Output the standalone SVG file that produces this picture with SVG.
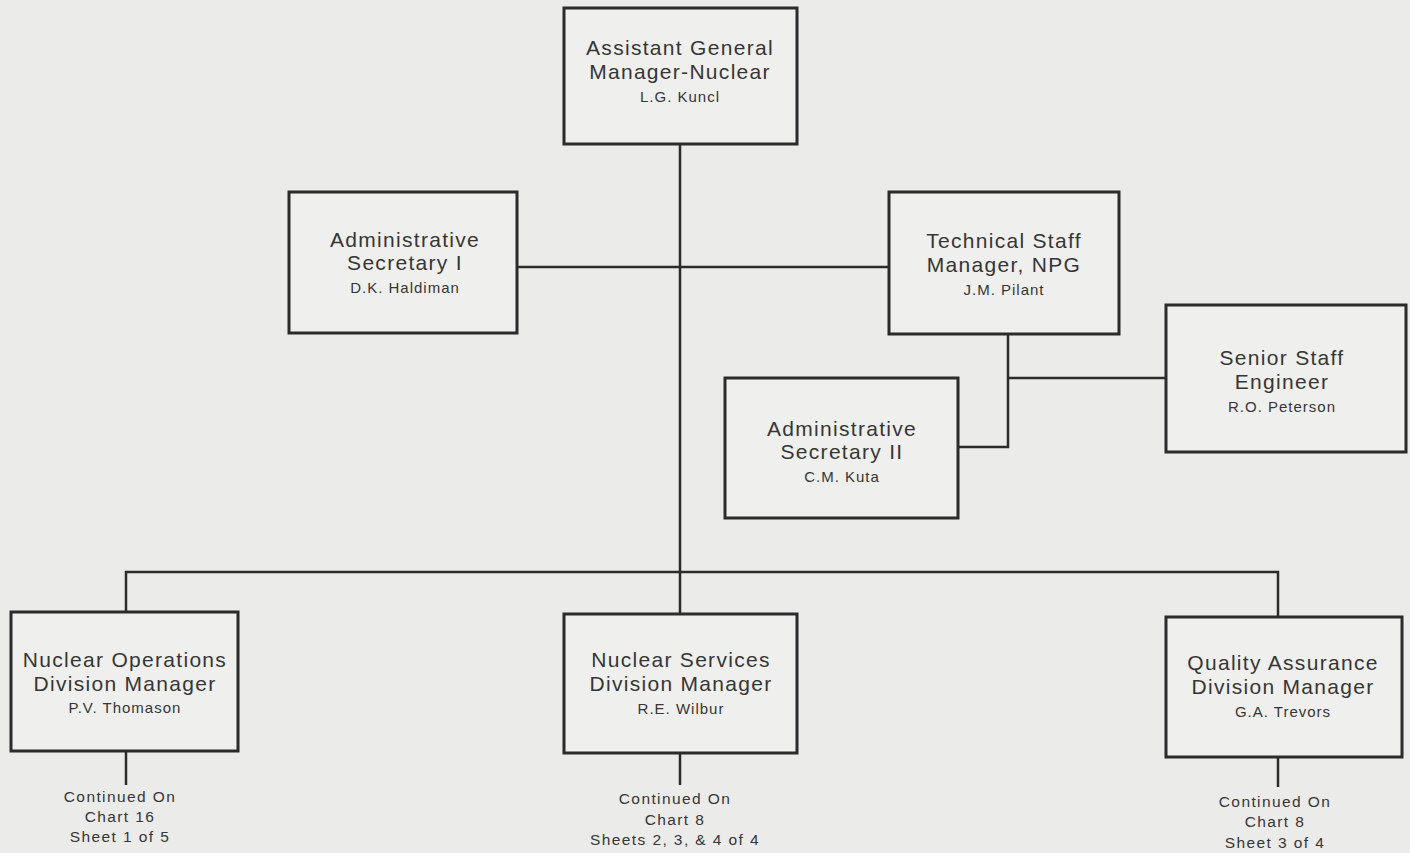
<svg xmlns="http://www.w3.org/2000/svg" width="1410" height="853" viewBox="0 0 1410 853">
<style>
.bg{fill:#ebebea}
.box{fill:#efefed;stroke:#2b2b2b;stroke-width:3}
.ln{stroke:#2b2b2b;stroke-width:2.5;fill:none}
.t{font-family:"Liberation Sans",Arial,sans-serif;font-size:21px;fill:#363636;text-anchor:middle;letter-spacing:1.3px}
.n{font-family:"Liberation Sans",Arial,sans-serif;font-size:15px;fill:#363636;text-anchor:middle;letter-spacing:1px}
.c{font-family:"Liberation Sans",Arial,sans-serif;font-size:15.5px;fill:#363636;text-anchor:middle;letter-spacing:1.4px}
</style>
<rect class="bg" x="0" y="0" width="1410" height="853"/>
<g id="connectors">
<path class="ln" d="M680 144V614"/>
<path class="ln" d="M517 267H889"/>
<path class="ln" d="M1008 334V447H958"/>
<path class="ln" d="M1008 378H1166"/>
<path class="ln" d="M126 612V572H1278V617"/>
<path class="ln" d="M126 751V785"/>
<path class="ln" d="M680 753V785"/>
<path class="ln" d="M1278 757V787"/>
</g>
<g id="agm">
<rect class="box" x="564" y="8" width="233" height="136"/>
<text class="t" x="680" y="55">Assistant General</text>
<text class="t" x="680" y="79">Manager-Nuclear</text>
<text class="n" x="680" y="102">L.G. Kuncl</text>
</g>
<g id="admin1">
<rect class="box" x="289" y="192" width="228" height="141"/>
<text class="t" x="405" y="247">Administrative</text>
<text class="t" x="405" y="270">Secretary I</text>
<text class="n" x="405" y="293">D.K. Haldiman</text>
</g>
<g id="techstaff">
<rect class="box" x="889" y="192" width="230" height="142"/>
<text class="t" x="1004" y="248">Technical Staff</text>
<text class="t" x="1004" y="272">Manager, NPG</text>
<text class="n" x="1004" y="295">J.M. Pilant</text>
</g>
<g id="senior">
<rect class="box" x="1166" y="305" width="240" height="147"/>
<text class="t" x="1282" y="365">Senior Staff</text>
<text class="t" x="1282" y="389">Engineer</text>
<text class="n" x="1282" y="412">R.O. Peterson</text>
</g>
<g id="admin2">
<rect class="box" x="725" y="378" width="233" height="140"/>
<text class="t" x="842" y="436">Administrative</text>
<text class="t" x="842" y="459">Secretary II</text>
<text class="n" x="842" y="482">C.M. Kuta</text>
</g>
<g id="nops">
<rect class="box" x="11" y="612" width="227" height="139"/>
<text class="t" x="125" y="667">Nuclear Operations</text>
<text class="t" x="125" y="691">Division Manager</text>
<text class="n" x="125" y="713">P.V. Thomason</text>
<text class="c" x="120" y="802">Continued On</text>
<text class="c" x="120" y="822">Chart 16</text>
<text class="c" x="120" y="842">Sheet 1 of 5</text>
</g>
<g id="nserv">
<rect class="box" x="564" y="614" width="233" height="139"/>
<text class="t" x="681" y="667">Nuclear Services</text>
<text class="t" x="681" y="691">Division Manager</text>
<text class="n" x="681" y="714">R.E. Wilbur</text>
<text class="c" x="675" y="804">Continued On</text>
<text class="c" x="675" y="825">Chart 8</text>
<text class="c" x="675" y="845">Sheets 2, 3, &amp; 4 of 4</text>
</g>
<g id="qa">
<rect class="box" x="1166" y="617" width="236" height="140"/>
<text class="t" x="1283" y="670">Quality Assurance</text>
<text class="t" x="1283" y="694">Division Manager</text>
<text class="n" x="1283" y="717">G.A. Trevors</text>
<text class="c" x="1275" y="807">Continued On</text>
<text class="c" x="1275" y="827">Chart 8</text>
<text class="c" x="1275" y="848">Sheet 3 of 4</text>
</g>
</svg>
